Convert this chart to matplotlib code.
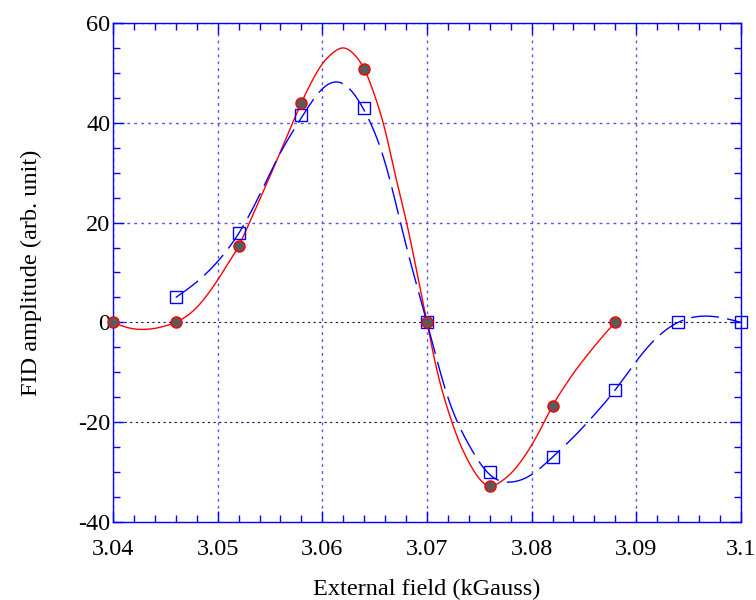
import numpy as np
import matplotlib
matplotlib.use("Agg")
import matplotlib.pyplot as plt
from matplotlib.ticker import MultipleLocator

plt.rcParams['font.family'] = ['Liberation Serif', 'DejaVu Serif']
plt.rcParams['axes.unicode_minus'] = False

# measured points
red_x = [3.040, 3.046, 3.052, 3.058, 3.064, 3.070, 3.076, 3.082, 3.088]
red_y = [0, 0, 15.3, 44.0, 50.8, 0, -32.8, -16.7, 0]
blue_x = [3.046, 3.052, 3.058, 3.064, 3.070, 3.076, 3.082, 3.088, 3.094, 3.100]
blue_y = [5.0, 18.0, 41.5, 43.0, 0, -30.0, -27.0, -13.5, 0, 0]

# smooth curves
red_cx = [3.040, 3.041, 3.042, 3.043, 3.044, 3.045, 3.046, 3.047, 3.048, 3.049,
          3.050, 3.051, 3.052, 3.053, 3.054, 3.055, 3.056, 3.057, 3.058, 3.059,
          3.060, 3.061, 3.062, 3.063, 3.064, 3.065, 3.066, 3.067, 3.068, 3.069,
          3.070, 3.071, 3.072, 3.073, 3.074, 3.075, 3.076, 3.077, 3.078, 3.079,
          3.080, 3.081, 3.082, 3.083, 3.084, 3.085, 3.086, 3.087, 3.088]
red_cy = [0, -0.8, -1.3, -1.4, -1.2, -0.7, 0, 1.2, 3.0, 5.5,
          8.5, 11.8, 15.3, 19.8, 24.5, 29.3, 34.2, 39.2, 44.0, 48.3,
          51.8, 54.0, 55.0, 53.8, 50.8, 45.5, 38.5, 29.3, 20.5, 10.5,
          0, -10.0, -17.5, -23.5, -28.0, -31.3, -32.8, -32.0, -30.3, -27.8,
          -24.6, -20.8, -16.7, -13.3, -10.2, -7.4, -4.8, -2.3, 0]
blue_cx = [3.046, 3.048, 3.050, 3.052, 3.054, 3.056, 3.058, 3.060, 3.062, 3.064,
           3.066, 3.068, 3.070, 3.072, 3.074, 3.076, 3.078, 3.080, 3.082, 3.084,
           3.086, 3.088, 3.090, 3.092, 3.094, 3.096, 3.098, 3.100]
blue_cy = [5.0, 8.1, 12.2, 17.8, 25.5, 34.0, 41.0, 46.8, 47.8, 42.5,
           32.0, 15.5, 0, -15.0, -24.5, -30.5, -32.0, -30.5, -27.0, -23.0,
           -18.5, -13.5, -7.8, -3.0, 0, 1.2, 1.0, 0]


def spline(x, y, n=600):
    # natural cubic spline, just for drawing a smooth line
    x = np.asarray(x, float)
    y = np.asarray(y, float)
    k = len(x)
    h = np.diff(x)
    A = np.zeros((k, k))
    b = np.zeros(k)
    A[0, 0] = 1
    A[-1, -1] = 1
    for i in range(1, k - 1):
        A[i, i - 1] = h[i - 1]
        A[i, i] = 2 * (h[i - 1] + h[i])
        A[i, i + 1] = h[i]
        b[i] = 3 * ((y[i + 1] - y[i]) / h[i] - (y[i] - y[i - 1]) / h[i - 1])
    c = np.linalg.solve(A, b)
    xs = np.linspace(x[0], x[-1], n)
    idx = np.clip(np.searchsorted(x, xs) - 1, 0, k - 2)
    dx = xs - x[idx]
    bb = (y[idx + 1] - y[idx]) / h[idx] - h[idx] * (2 * c[idx] + c[idx + 1]) / 3
    dd = (c[idx + 1] - c[idx]) / (3 * h[idx])
    ys = y[idx] + bb * dx + c[idx] * dx ** 2 + dd * dx ** 3
    return xs, ys


fig = plt.figure(figsize=(7.56, 6.0), dpi=100)
ax = fig.add_axes([0.1495, 0.13, 0.8305, 0.8317])

sx, sy = spline(red_cx, red_cy)
ax.plot(sx, sy, color='red', lw=1.0, zorder=3)
bx, by = spline(blue_cx, blue_cy)
ax.plot(bx, by, color='blue', lw=1.0, dashes=(20, 6), zorder=3)

ax.plot(blue_x, blue_y, ls='none', marker='s', ms=9, mfc='none', mec='blue',
        mew=1.0, zorder=4, clip_on=False)
ax.plot(red_x, red_y, ls='none', marker='o', ms=8, mfc='#5a5a5a', mec='red',
        mew=1.0, zorder=5, clip_on=False)

ax.set_xlim(3.04, 3.1)
ax.set_ylim(-40, 60)
ax.xaxis.set_minor_locator(MultipleLocator(0.002))
ax.yaxis.set_major_locator(MultipleLocator(20))
ax.yaxis.set_minor_locator(MultipleLocator(5))
ax.set_xticks([3.04, 3.05, 3.06, 3.07, 3.08, 3.09, 3.1])
ax.set_xticklabels(['3.04', '3.05', '3.06', '3.07', '3.08', '3.09', '3.1'])

for s in ax.spines.values():
    s.set_color('blue')
    s.set_linewidth(1.0)
ax.tick_params(which='both', direction='in', top=True, right=True, color='blue',
               labelsize=17.5, labelcolor='black')
ax.tick_params(which='major', length=8, width=1)
ax.tick_params(which='minor', length=5, width=1)
ax.tick_params(axis='x', pad=12)
ax.tick_params(axis='y', pad=2)

ax.grid(True, which='major', linestyle=(0, (2, 3)), linewidth=1.0, color='#5555ee')
for val, gl in zip(ax.get_yticks(), ax.yaxis.get_gridlines()):
    if val <= 0:
        gl.set_color('#111155')
        gl.set_linewidth(0.8)

ax.set_xlabel('External field (kGauss)', fontsize=17.5, labelpad=14)
ax.set_ylabel('FID amplitude (arb. unit)', fontsize=17.5, labelpad=26)

fig.savefig('out.png', dpi=100)
